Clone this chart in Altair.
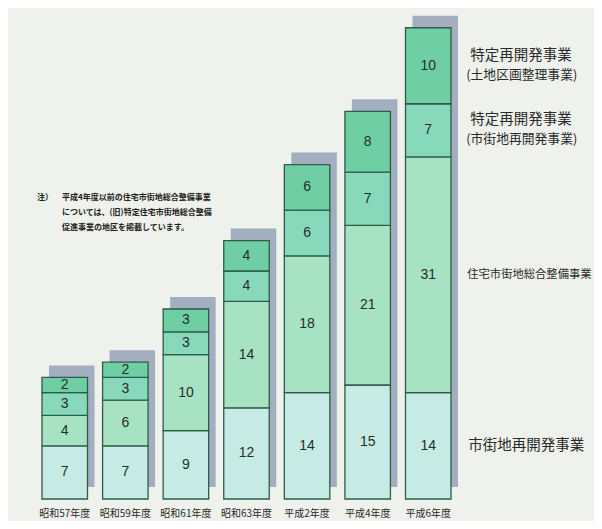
import altair as alt
import pandas as pd

categories = ["昭和57年度", "昭和59年度", "昭和61年度", "昭和63年度", "平成2年度", "平成4年度", "平成6年度"]
series = ["市街地再開発事業", "住宅市街地総合整備事業", "特定再開発事業(市街地再開発事業)", "特定再開発事業(土地区画整理事業)"]
shigaichi = [7, 7, 9, 12, 14, 15, 14]
jutaku = [4, 6, 10, 14, 18, 21, 31]
tokutei_shigaichi = [3, 3, 3, 4, 6, 7, 7]
tokutei_kukaku = [2, 2, 3, 4, 6, 8, 10]
colors = ["#c6ebe4", "#a7e2c3", "#88d8bb", "#6fcea3"]
note_lines = ["注）", "平成4年度以前の住宅市街地総合整備事業", "については、(旧)特定住宅市街地総合整備", "促進事業の地区を掲載しています。"]

# long table
rows = []
for i, c in enumerate(categories):
    base = 0
    for s, vals in zip(series, [shigaichi, jutaku, tokutei_shigaichi, tokutei_kukaku]):
        v = vals[i]
        rows.append({"cat": c, "series": s, "value": v, "start": base, "end": base + v, "mid": base + v / 2})
        base += v
df = pd.DataFrame(rows)
totals = df.groupby("cat", sort=False)["value"].sum().reset_index()

JP = "Noto Sans CJK JP"
xscale = alt.Scale(domain=categories, range=[34, 443], paddingInner=0.249, paddingOuter=0)
yscale = alt.Scale(domain=[0, 64.6], nice=False, zero=True)
xenc = alt.X("cat:N", scale=xscale, sort=categories,
             axis=alt.Axis(title=None, domain=False, ticks=False, labelAngle=0, labelFont=JP,
                           labelFontSize=10, labelPadding=9, labelColor="#2a2a2a"))

shadow = alt.Chart(totals).mark_bar(color="#a3aebf", xOffset=7, yOffset=-12).encode(
    x=xenc,
    y=alt.Y("value:Q", scale=yscale, axis=None),
)

bars = alt.Chart(df).mark_bar(stroke="#2d5c4c", strokeWidth=1.3).encode(
    x=xenc,
    y=alt.Y("start:Q", scale=yscale, axis=None),
    y2="end:Q",
    color=alt.Color("series:N", scale=alt.Scale(domain=series, range=colors), legend=None),
)

nums = alt.Chart(df).mark_text(font="Liberation Sans", fontSize=14, color="#1f302a", baseline="middle").encode(
    x=xenc,
    y=alt.Y("mid:Q", scale=yscale, axis=None),
    text="value:Q",
)

last = df[df["cat"] == categories[-1]].copy()
single = last[last["series"].isin(series[:2])].copy()
single["label"] = single["series"]

lab1 = alt.Chart(single[single["series"] == series[0]]).mark_text(
    font=JP, fontSize=14.5, align="left", baseline="middle", dx=40, color="#2a2a2a").encode(
    x=xenc, y=alt.Y("mid:Q", scale=yscale, axis=None), text="label:N")
lab2 = alt.Chart(single[single["series"] == series[1]]).mark_text(
    font=JP, fontSize=11.3, align="left", baseline="middle", dx=39, color="#2a2a2a").encode(
    x=xenc, y=alt.Y("mid:Q", scale=yscale, axis=None), text="label:N")

two = last[last["series"].isin(series[2:])].copy()
two["line1"] = two["series"].str.split("(").str[0]
two["line2"] = "(" + two["series"].str.split("(").str[1]
lab3 = alt.Chart(two).mark_text(
    font=JP, fontSize=14.5, align="left", baseline="middle", dx=42, dy=-10, color="#2a2a2a").encode(
    x=xenc, y=alt.Y("mid:Q", scale=yscale, axis=None), text="line1:N")
lab4 = alt.Chart(two).mark_text(
    font=JP, fontSize=12.8, align="left", baseline="middle", dx=38, dy=9, color="#2a2a2a").encode(
    x=xenc, y=alt.Y("mid:Q", scale=yscale, axis=None), text="line2:N")

note_df = pd.DataFrame({"t": note_lines})
note_style = dict(font=JP, fontSize=8, align="left", baseline="middle", color="#222222", fontWeight="bold")
note0 = alt.Chart(note_df.iloc[[0]]).mark_text(**note_style).encode(
    x=alt.value(29), y=alt.value(190), text="t:N")
note1 = alt.Chart(note_df.iloc[[1]]).mark_text(**note_style).encode(
    x=alt.value(54), y=alt.value(190), text="t:N")
note2 = alt.Chart(note_df.iloc[[2]]).mark_text(**note_style).encode(
    x=alt.value(54), y=alt.value(205), text="t:N")
note3 = alt.Chart(note_df.iloc[[3]]).mark_text(**note_style).encode(
    x=alt.value(54), y=alt.value(220), text="t:N")

chart = alt.layer(shadow, bars, nums, lab1, lab2, lab3, lab4, note0, note1, note2, note3).properties(
    width=586, height=491,
    autosize=alt.AutoSizeParams(type="none"),
    padding={"left": 0, "top": 0, "right": 0, "bottom": 22},
    background="#eff1ec",
).configure_view(stroke=None)

chart.save("out.html", embed_options={"renderer": "svg", "actions": False})
